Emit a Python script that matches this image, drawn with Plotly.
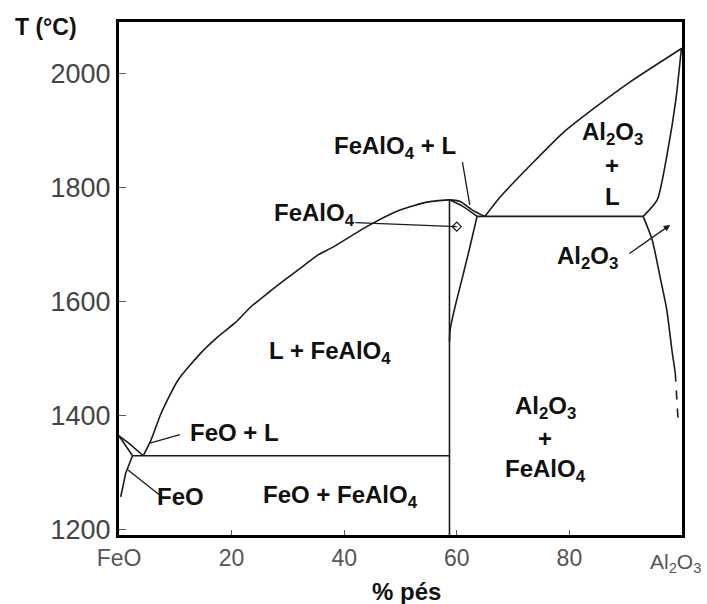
import plotly.graph_objects as go

# ---- data (wt% Al2O3, T in °C) ----
liq_spinel_x = [4.3, 5.7, 7.5, 10.5, 14.6, 17.6, 20.6, 23.4, 26.5, 29.5, 33.0, 35.3, 38.0, 44.0, 49.9, 54.7, 58.7, 60.6, 62.9, 65.0]
liq_spinel_T = [1330, 1358, 1405, 1463, 1511, 1539, 1563, 1591, 1616, 1639, 1665, 1682, 1696, 1732, 1761, 1775, 1779, 1776, 1760, 1750]

liq_alumina_x = [65.0, 67.7, 73.5, 78.9, 81.9, 90.8, 100.0]
liq_alumina_T = [1750, 1784, 1844, 1897, 1921, 1986, 2045]

sol_alumina_x = [99.9, 98.9, 97.5, 95.6, 93.1]
sol_alumina_T = [2045, 1954, 1867, 1779, 1750]

solv_alumina_x = [93.1, 94.7, 96.1, 97.3, 98.2, 98.8]
solv_alumina_T = [1750, 1709, 1644, 1586, 1516, 1476]
solv_alumina_dash_x = [98.8, 99.3]
solv_alumina_dash_T = [1476, 1393]

eut_high_x = [63.6, 93.1]
eut_high_T = [1750, 1750]
eut_low_x = [2.4, 58.7]
eut_low_T = [1330, 1330]

spinel_left_x = [58.7, 58.7]
spinel_left_T = [1191, 1779]
spinel_right_x = [63.6, 62.2, 60.9, 60.0, 59.3, 58.8, 58.7]
spinel_right_T = [1750, 1691, 1639, 1604, 1575, 1550, 1530]
lens_sol_x = [58.7, 61.0, 63.6]
lens_sol_T = [1779, 1768, 1750]

feo_liq_x = [0.0, 2.0, 4.3]
feo_liq_T = [1365, 1350, 1330]
feo_sol_x = [0.0, 1.3, 2.4]
feo_sol_T = [1365, 1345, 1330]
feo_solv_x = [2.4, 1.2, 0.3]
feo_solv_T = [1330, 1300, 1258]

x_tickvals = [0, 20, 40, 60, 80]
x_ticktext = ["FeO", "20", "40", "60", "80"]
x_end_label = "Al<sub>2</sub>O<sub>3</sub>"
y_tickvals = [1200, 1400, 1600, 1800, 2000]

LC = "#1a1a1a"
FAM = "Liberation Sans, Arial, sans-serif"
fig = go.Figure()

def add_line(xs, ts, dash="solid", width=1.6, shape="linear"):
    fig.add_trace(go.Scatter(x=xs, y=ts, mode="lines", showlegend=False,
                             line=dict(color=LC, width=width, dash=dash, shape=shape, smoothing=0.6),
                             hoverinfo="skip"))

for xs, ts in [(liq_spinel_x, liq_spinel_T), (liq_alumina_x, liq_alumina_T),
               (sol_alumina_x, sol_alumina_T), (solv_alumina_x, solv_alumina_T),
               (spinel_right_x, spinel_right_T), (lens_sol_x, lens_sol_T)]:
    add_line(xs, ts, shape="spline")
for xs, ts in [(eut_high_x, eut_high_T), (eut_low_x, eut_low_T),
               (spinel_left_x, spinel_left_T), (feo_liq_x, feo_liq_T),
               (feo_sol_x, feo_sol_T), (feo_solv_x, feo_solv_T)]:
    add_line(xs, ts)
add_line(solv_alumina_dash_x, solv_alumina_dash_T, dash="dash")

# pointer lines
ptr_feal_x = [42.0, 60.0]
ptr_feal_T = [1739, 1732]
ptr_fealL_x = [61.0, 62.3]
ptr_fealL_T = [1845, 1770]
ptr_feoL_x = [10.8, 5.5]
ptr_feoL_T = [1367, 1352]
ptr_feo_x = [7.6, 1.6]
ptr_feo_T = [1258, 1305]
for xs, ts in [(ptr_feal_x, ptr_feal_T), (ptr_fealL_x, ptr_fealL_T),
               (ptr_feoL_x, ptr_feoL_T), (ptr_feo_x, ptr_feo_T)]:
    add_line(xs, ts, width=1.3)
fig.add_trace(go.Scatter(x=[ptr_feal_x[1]], y=[ptr_feal_T[1]], mode="markers", showlegend=False,
                         marker=dict(symbol="diamond-open", size=7, color=LC, line=dict(width=1.3))))

fig.add_annotation(x=97.9, y=1735, ax=90.4, ay=1683, xref="x", yref="y", axref="x", ayref="y",
                   text="", showarrow=True, arrowhead=2, arrowsize=1, arrowwidth=1.3, arrowcolor=LC)

FONT = dict(family=FAM, size=24, color="#111")
labels = [
    ("<b>FeAlO<sub>4</sub> + L</b>", 49.0, 1870),
    ("<b>FeAlO<sub>4</sub></b>", 34.8, 1753),
    ("<b>Al<sub>2</sub>O<sub>3</sub></b>", 87.6, 1896),
    ("<b>+</b>", 87.6, 1840),
    ("<b>L</b>", 87.6, 1784),
    ("<b>Al<sub>2</sub>O<sub>3</sub></b>", 83.3, 1677),
    ("<b>L + FeAlO<sub>4</sub></b>", 37.5, 1512),
    ("<b>FeO + L</b>", 20.6, 1370),
    ("<b>FeO</b>", 11.0, 1258),
    ("<b>FeO + FeAlO<sub>4</sub></b>", 39.3, 1258),
    ("<b>Al<sub>2</sub>O<sub>3</sub></b>", 75.7, 1414),
    ("<b>+</b>", 75.7, 1361),
    ("<b>FeAlO<sub>4</sub></b>", 75.7, 1305),
]
for t, x, y in labels:
    fig.add_annotation(x=x, y=y, text=t, showarrow=False, font=FONT, xref="x", yref="y")

fig.add_annotation(x=0.989, y=-0.055, xref="paper", yref="paper", xanchor="center", yanchor="middle",
                   text=x_end_label, showarrow=False, font=dict(family=FAM, size=21, color="#555"))
fig.add_annotation(x=-0.129, y=0.99, xref="paper", yref="paper", xanchor="center", yanchor="middle",
                   text="<b>T (°C)</b>", showarrow=False, font=dict(family=FAM, size=23, color="#111"))
fig.add_annotation(x=0.510, y=-0.111, xref="paper", yref="paper", xanchor="center", yanchor="middle",
                   text="<b>% pés</b>", showarrow=False, font=dict(family=FAM, size=24, color="#111"))

fig.update_layout(
    width=707, height=604, margin=dict(l=119, r=25, t=22, b=69),
    paper_bgcolor="white", plot_bgcolor="white",
    xaxis=dict(range=[0, 100], tickvals=x_tickvals, ticktext=x_ticktext, ticks="inside", ticklen=5,
               tickwidth=1, tickcolor="#555", showgrid=False, zeroline=False,
               showline=True, linecolor="black", linewidth=3, mirror=True,
               tickfont=dict(family=FAM, size=23, color="#555")),
    yaxis=dict(range=[1191, 2091], tickvals=y_tickvals, ticks="inside", ticklen=7,
               tickwidth=1, tickcolor="#555", showgrid=False, zeroline=False,
               showline=True, linecolor="black", linewidth=3, mirror=True,
               tickfont=dict(family=FAM, size=27, color="#444")),
)

fig.write_html("out.html")
